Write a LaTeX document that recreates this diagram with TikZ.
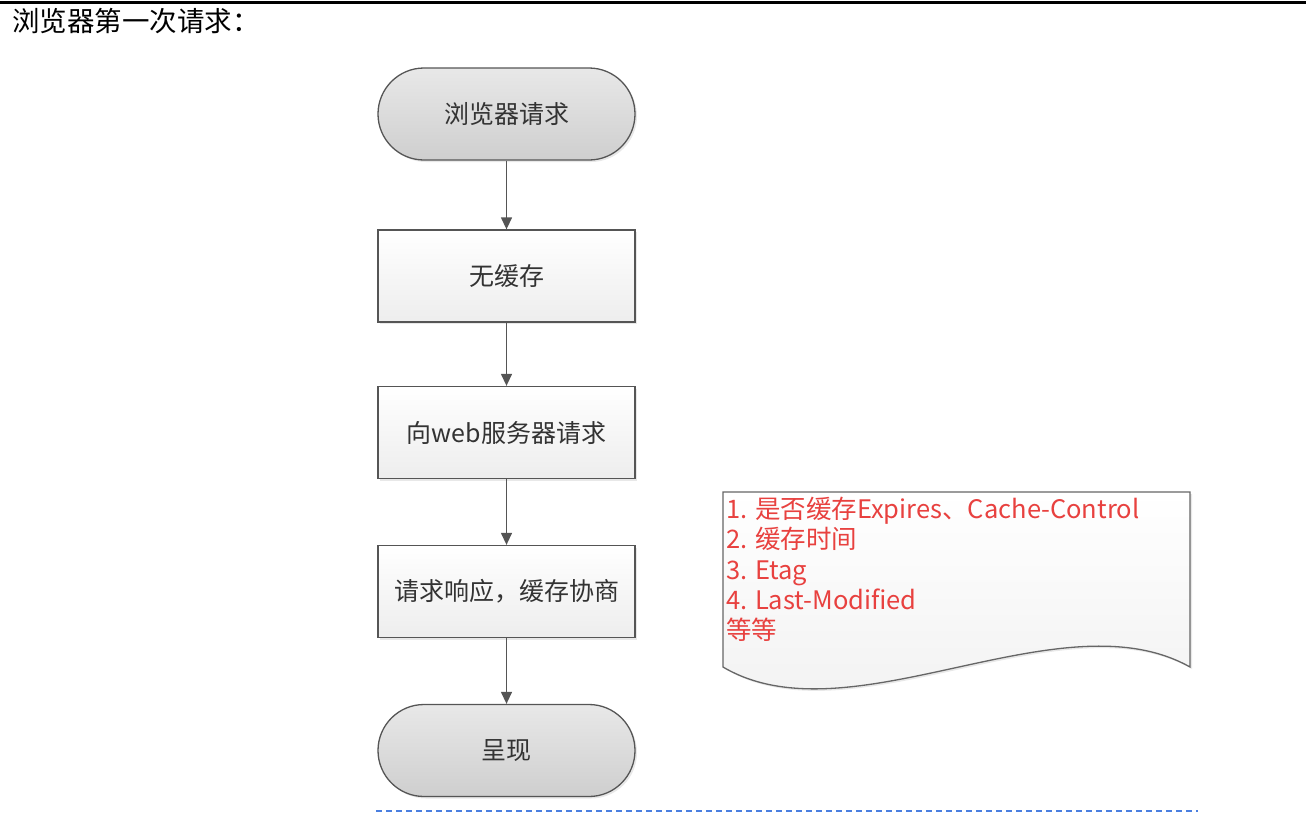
\documentclass[tikz,border=0pt]{standalone}
\usepackage{fontspec}
\setmainfont{Noto Sans CJK SC}
\usetikzlibrary{arrows.meta,shadows}
\definecolor{nodetext}{HTML}{333333}
\definecolor{edgegray}{HTML}{555555}
\definecolor{notered}{HTML}{E8413F}
\definecolor{dashblue}{HTML}{4A7FE0}
\tikzset{
  base/.style={draw=edgegray, line width=1.3pt, text=nodetext, font=\fontsize{25}{28}\selectfont,
    minimum width=257pt, minimum height=92pt, inner sep=0pt,
    drop shadow={opacity=0.18, shadow xshift=2pt, shadow yshift=-2pt}},
  terminal/.style={base, rounded corners=46pt, top color=gray!18, bottom color=gray!38},
  procbox/.style={base, top color=white, bottom color=gray!14},
  flow/.style={draw=edgegray, line width=1.3pt, -{Triangle[length=12pt,width=11pt]}},
}
\begin{document}
\begin{tikzpicture}[x=1pt,y=-1pt]
\useasboundingbox (0,0) rectangle (1308,814);
% top rule
\draw[line width=2.5pt, black] (0,2.5) -- (1306,2.5);
\node[anchor=west, inner sep=0pt, font=\fontsize{27.5}{30}\selectfont] (title) at (12,21) {浏览器第一次请求：};
% flow nodes
\node[terminal] (start) at (506.5,114) {浏览器请求};
\node[procbox] (nocache) at (506.5,276) {无缓存};
\node[procbox] (webreq) at (506.5,432.5) {向web服务器请求};
\node[procbox] (resp) at (506.5,591.5) {请求响应，缓存协商};
\node[terminal] (show) at (506.5,750.5) {呈现};
\draw[flow] (start) -- (nocache);
\draw[flow] (nocache) -- (webreq);
\draw[flow] (webreq) -- (resp);
\draw[flow] (resp) -- (show);
% note document shape
\path[draw=gray!80!black, line width=1.3pt, top color=white, bottom color=gray!12,
  drop shadow={opacity=0.18, shadow xshift=2pt, shadow yshift=-2pt}]
  (723,492) -- (1190,492) -- (1190,667)
  .. controls (1060,594) and (850,742) .. (723,667) -- cycle;
\node[anchor=north west, inner sep=0pt, align=left, text=notered,
  font=\fontsize{25.5}{30.3}\selectfont] (note) at (726,497)
  {1. 是否缓存Expires、Cache-Control\\2. 缓存时间\\3. Etag\\4. Last-Modified\\等等};
% dashed rule
\coordinate (dl) at (376,811);
\coordinate (dr) at (1198,811);
\draw[dashblue, line width=1.6pt, dash pattern=on 6pt off 4pt] (dl) -- (dr);
\end{tikzpicture}
\end{document}
